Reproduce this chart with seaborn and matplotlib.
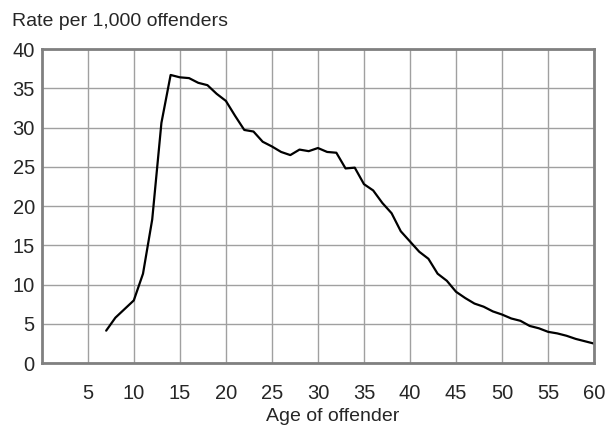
import matplotlib
matplotlib.use("Agg")
import matplotlib.pyplot as plt
import seaborn as sns
import pandas as pd


ages = list(range(7, 61))
rates = [
    4.15, 5.8, 6.9, 8.0, 11.4, 18.3, 30.6, 36.7, 36.4, 36.3,
    35.7, 35.4, 34.3, 33.4, 31.5, 29.7, 29.5, 28.2, 27.6, 26.9,
    26.5, 27.2, 27.0, 27.4, 26.9, 26.8, 24.8, 24.9, 22.8, 22.0,
    20.4, 19.1, 16.8, 15.5, 14.2, 13.3, 11.4, 10.5, 9.1, 8.3,
    7.6, 7.2, 6.6, 6.2, 5.7, 5.4, 4.75, 4.45, 4.0, 3.8,
    3.5, 3.1, 2.8, 2.5,
]
x_ticks = list(range(5, 61, 5))
y_ticks = list(range(0, 41, 5))


def plot_rate_by_age():
    sns.set_style("white")
    plt.rcParams["font.family"] = ["Liberation Sans", "DejaVu Sans"]

    df = pd.DataFrame({"age": ages, "rate": rates})

    fig = plt.figure(figsize=(6.1, 4.34), dpi=100)
    ax = fig.add_axes([0.0684, 0.163, 0.9056, 0.724])

    sns.lineplot(data=df, x="age", y="rate", color="black", linewidth=1.6, ax=ax)

    ax.set_xlim(0, 60)
    ax.set_ylim(0, 40)
    ax.set_xticks(x_ticks)
    ax.set_yticks(y_ticks)
    ax.tick_params(axis="x", length=0, pad=15, labelsize=14.5)
    ax.tick_params(axis="y", length=3, width=1.5, color="#808080", pad=2, labelsize=14.5)

    ax.grid(True, color="#a0a0a0", linewidth=1.0)
    ax.set_axisbelow(True)
    for side in ["left", "right", "top", "bottom"]:
        ax.spines[side].set_visible(True)
        ax.spines[side].set_color("#808080")
        ax.spines[side].set_linewidth(2.0)

    ax.set_xlabel("Age of offender", fontsize=14)
    ax.xaxis.set_label_coords(0.526, -0.143)
    ax.set_ylabel("")
    fig.text(0.019, 0.93, "Rate per 1,000 offenders", fontsize=14, va="bottom")

    fig.savefig("out.png", dpi=100)
    plt.close(fig)


if __name__ == "__main__":
    plot_rate_by_age()
